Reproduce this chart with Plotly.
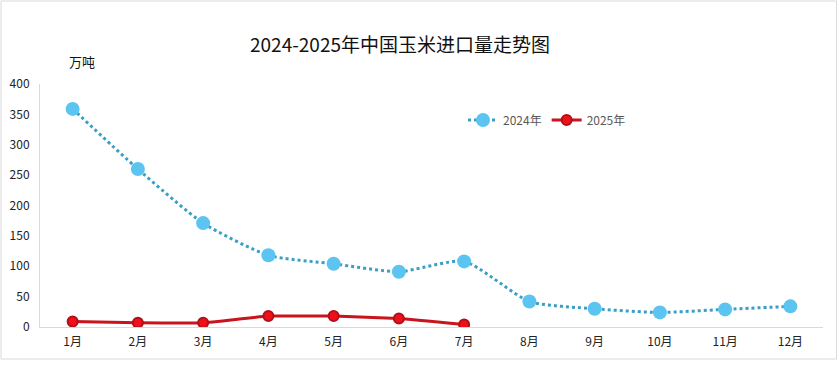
import plotly.graph_objects as go

months = ["1月", "2月", "3月", "4月", "5月", "6月", "7月", "8月", "9月", "10月", "11月", "12月"]
v2024 = [359, 260, 171, 118, 104, 91, 108, 42, 30, 24, 29, 34]
months_2025 = ["1月", "2月", "3月", "4月", "5月", "6月", "7月"]
v2025 = [9, 7, 7, 18, 18, 14, 4]
yticks = [0, 50, 100, 150, 200, 250, 300, 350, 400]

FONT = "Noto Sans CJK SC, Microsoft YaHei, sans-serif"

fig = go.Figure()
fig.add_trace(go.Scatter(
    x=months, y=v2024, name="2024年", mode="lines+markers",
    line=dict(color="#3A9FC4", width=3, dash="dot", shape="spline", smoothing=0.6),
    marker=dict(color="#5BC4F0", size=14, line=dict(width=0)),
))
fig.add_trace(go.Scatter(
    x=months_2025, y=v2025, name="2025年", mode="lines+markers",
    line=dict(color="#C8141C", width=3, shape="spline", smoothing=0.3),
    marker=dict(color="#F0101A", size=10, line=dict(color="#B01018", width=2)),
))

W, H = 838, 370
L, R, T, B = 40, 15, 84, 43
pw, ph = W - L - R, H - T - B

def px_x(x):
    return (x - L) / pw

def px_y(y):
    return (H - B - y) / ph

fig.update_layout(
    width=W, height=H,
    margin=dict(l=L, r=R, t=T, b=B),
    paper_bgcolor="white", plot_bgcolor="white",
    font=dict(family=FONT, size=12, color="#222222"),
    title=dict(text="2024-2025年中国玉米进口量走势图", x=400 / W, xanchor="center", xref="container",
               y=1 - 45 / H, yanchor="middle", yref="container",
               font=dict(size=19, color="#111111", family=FONT)),
    showlegend=True,
    legend=dict(orientation="h", x=px_x(463), y=px_y(120), xanchor="left", yanchor="middle",
                font=dict(size=12, color="#595959", family=FONT),
                bgcolor="rgba(0,0,0,0)", itemwidth=30, traceorder="normal"),
    xaxis=dict(type="category", categoryorder="array", categoryarray=months,
               range=[-0.5, 11.5], showgrid=False, zeroline=False,
               showline=True, linecolor="#D9D9D9", linewidth=1,
               ticks="", ticklabelstandoff=4, tickfont=dict(size=12, color="#222222"),
               automargin=False),
    yaxis=dict(range=[0, 400], tickvals=yticks, showgrid=False, zeroline=False,
               showline=True, linecolor="#D9D9D9", linewidth=1,
               ticks="", ticklabelstandoff=7, tickfont=dict(size=12, color="#222222"),
               automargin=False),
    annotations=[dict(text="万吨", xref="paper", yref="paper", x=px_x(82), y=px_y(62),
                      xanchor="center", yanchor="middle", showarrow=False,
                      font=dict(size=13, color="#111111", family=FONT))],
    shapes=[dict(type="rect", xref="paper", yref="paper",
                 x0=px_x(1), x1=px_x(836.5), y0=px_y(359), y1=px_y(1),
                 line=dict(color="#D9D9D9", width=1), fillcolor="rgba(0,0,0,0)", layer="below")],
)

fig.write_html("out.html", config={"displayModeBar": False},
               post_script="document.body.style.margin='0';")
